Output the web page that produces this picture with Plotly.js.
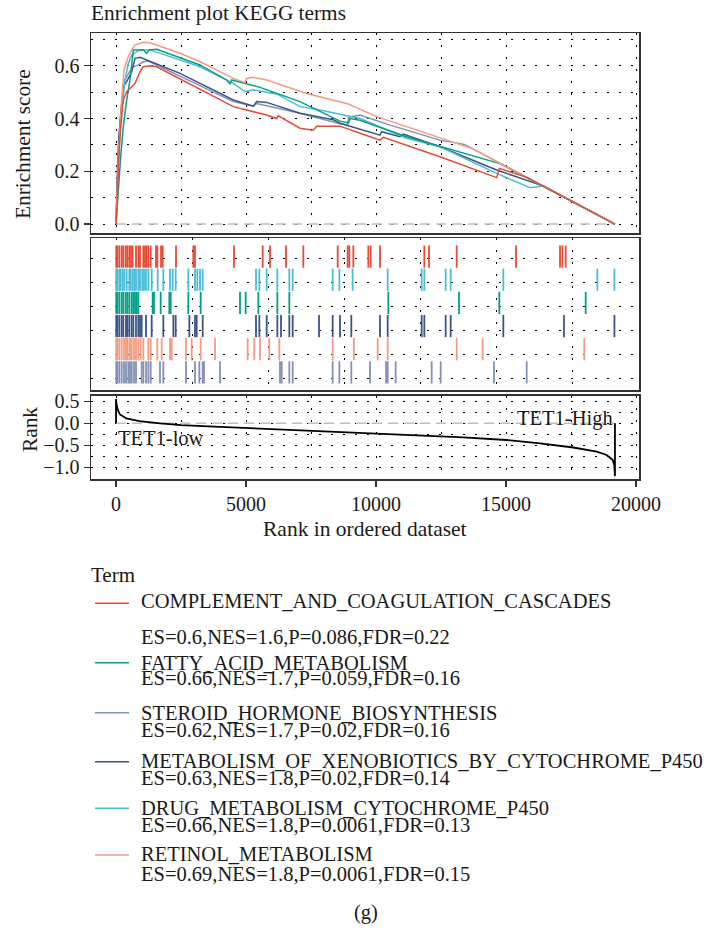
<!DOCTYPE html>
<html>
<head>
<meta charset="utf-8">
<script src="https://cdn.plot.ly/plotly-3.0.1.min.js"></script>
<style>html,body{margin:0;padding:0;background:#fff}#chart{width:711px;height:930px}</style>
</head>
<body>
<div id="chart"></div>
<script>
// ---------------- DATA ----------------
const nGenes = 19190;

// legend (display order)
const legendTerms = [
  "COMPLEMENT_AND_COAGULATION_CASCADES",
  "FATTY_ACID_METABOLISM",
  "STEROID_HORMONE_BIOSYNTHESIS",
  "METABOLISM_OF_XENOBIOTICS_BY_CYTOCHROME_P450",
  "DRUG_METABOLISM_CYTOCHROME_P450",
  "RETINOL_METABOLISM"
];
const legendStats = [
  "ES=0.6,NES=1.6,P=0.086,FDR=0.22",
  "ES=0.66,NES=1.7,P=0.059,FDR=0.16",
  "ES=0.62,NES=1.7,P=0.02,FDR=0.16",
  "ES=0.63,NES=1.8,P=0.02,FDR=0.14",
  "ES=0.66,NES=1.8,P=0.0061,FDR=0.13",
  "ES=0.69,NES=1.8,P=0.0061,FDR=0.15"
];
const legendColors = ["#E64B35", "#00A087", "#8491B4", "#3C5488", "#4DBBD5", "#F39B7F"];

// running enrichment score curves (rank, ES)
const esRankComplement = [0, 51, 103, 179, 282, 410, 538, 731, 923, 1051, 1308, 1564, 4513, 5795, 6179, 6243, 7077, 7590, 7718, 8615, 9385, 10153, 10282, 12460, 14640, 14743, 15800, 19190];
const esComplement     = [0, 0.091, 0.243, 0.369, 0.47, 0.502, 0.514, 0.533, 0.577, 0.596, 0.60, 0.596, 0.445, 0.413, 0.40, 0.41, 0.363, 0.356, 0.371, 0.371, 0.344, 0.318, 0.329, 0.255, 0.176, 0.211, 0.177, 0];

const esRankFatty = [0, 90, 179, 282, 410, 538, 628, 667, 1051, 1180, 1269, 1564, 3231, 4256, 4385, 4449, 5538, 7077, 8615, 8950, 9000, 9385, 11180, 14770, 19190];
const esFatty     = [0, 0.142, 0.255, 0.369, 0.47, 0.546, 0.628, 0.66, 0.66, 0.647, 0.66, 0.662, 0.603, 0.546, 0.531, 0.546, 0.518, 0.464, 0.39, 0.383, 0.40, 0.393, 0.331, 0.229, 0];

const esRankSteroid = [0, 51, 128, 218, 346, 513, 667, 859, 1051, 1244, 4513, 5282, 5410, 7077, 8615, 8900, 8950, 9385, 10538, 12460, 13400, 19190];
const esSteroid     = [0, 0.217, 0.344, 0.445, 0.546, 0.577, 0.596, 0.603, 0.615, 0.618, 0.464, 0.447, 0.457, 0.42, 0.38, 0.375, 0.405, 0.413, 0.375, 0.318, 0.302, 0];

const esRankXeno = [0, 51, 103, 179, 282, 410, 603, 731, 923, 2462, 4513, 5282, 5410, 5795, 7077, 8359, 8615, 10153, 10218, 10923, 11050, 12460, 14640, 16050, 16435, 19190];
const esXeno     = [0, 0.192, 0.318, 0.42, 0.52, 0.54, 0.577, 0.628, 0.632, 0.571, 0.47, 0.447, 0.464, 0.461, 0.42, 0.395, 0.382, 0.337, 0.35, 0.331, 0.341, 0.293, 0.205, 0.157, 0.144, 0];

const esRankDrug = [0, 51, 128, 218, 346, 474, 603, 923, 1308, 3231, 4513, 4962, 5282, 6179, 7077, 7846, 9385, 11180, 12460, 14640, 15920, 16435, 19190];
const esDrug     = [0, 0.142, 0.306, 0.432, 0.546, 0.609, 0.641, 0.66, 0.66, 0.596, 0.533, 0.502, 0.508, 0.493, 0.445, 0.432, 0.40, 0.325, 0.293, 0.192, 0.138, 0.144, 0];

const esRankRetinol = [0, 90, 218, 308, 474, 603, 731, 1051, 1308, 2462, 3231, 4513, 4962, 5026, 5282, 5795, 7333, 8615, 8935, 10025, 12460, 13700, 19190];
const esRetinol     = [0, 0.243, 0.47, 0.584, 0.634, 0.66, 0.679, 0.689, 0.687, 0.647, 0.615, 0.552, 0.536, 0.552, 0.556, 0.546, 0.495, 0.464, 0.455, 0.407, 0.325, 0.286, 0];

// hit positions (rug rows, top to bottom)
const hitsComplement = [10, 51, 128, 218, 282, 372, 436, 513, 577, 641, 769, 859, 923, 1051, 1115, 1179, 1244, 1333, 1538, 1590, 1731, 1795, 2308, 2974, 3038, 4538, 5641, 5923, 6538, 7205, 8526, 8910, 8974, 9128, 9705, 9795, 10154, 11859, 12038, 13103, 15385, 17077, 17167, 17295];
const hitsDrug = [10, 51, 128, 179, 256, 321, 410, 513, 564, 641, 705, 769, 859, 923, 1013, 1077, 1154, 1244, 1372, 1603, 1820, 2077, 2179, 2295, 2782, 3038, 3128, 3231, 3333, 5384, 5513, 5795, 6205, 6666, 6795, 8333, 8590, 9100, 10449, 11756, 11859, 12679, 12872, 14897, 18512, 19170];
const hitsFatty = [10, 51, 128, 218, 282, 372, 436, 513, 603, 667, 731, 795, 859, 1410, 1461, 1718, 2051, 2102, 2782, 3256, 4769, 4987, 5474, 6205, 6666, 10474, 13192, 14743, 18064];
const hitsXeno = [10, 51, 128, 218, 282, 385, 436, 513, 603, 667, 769, 859, 923, 987, 1154, 1372, 1820, 2205, 2295, 2820, 3038, 3103, 3333, 5384, 5513, 5795, 6205, 6346, 6666, 6795, 7808, 8333, 8615, 9050, 10154, 10449, 11756, 11859, 12679, 12872, 14897, 17230, 19170];
const hitsRetinol = [10, 51, 128, 218, 308, 385, 449, 538, 603, 692, 769, 859, 949, 1051, 1244, 1333, 1590, 1756, 2077, 2141, 2692, 2910, 3256, 3808, 5064, 5320, 5538, 5897, 6282, 8333, 9150, 10064, 10449, 13103, 14102, 18012];
const hitsSteroid = [10, 51, 128, 218, 308, 385, 474, 538, 603, 692, 769, 987, 1051, 1154, 1244, 1333, 1692, 1820, 2692, 3038, 3205, 3333, 3384, 4000, 6307, 6372, 6666, 6795, 8333, 8590, 9050, 9769, 10385, 10449, 10756, 12141, 12487, 14538, 15795];

// ranked list metric
const rankPos    = [0, 0, 20, 60, 150, 400, 900, 1700, 2500, 4000, 5000, 7500, 10000, 12077, 13360, 15026, 16308, 17590, 18490, 18870, 19100, 19165, 19190, 19190];
const rankMetric = [0, 0.55, 0.42, 0.32, 0.2, 0.11, 0.05, 0.0, -0.04, -0.08, -0.105, -0.165, -0.225, -0.28, -0.32, -0.38, -0.455, -0.55, -0.645, -0.72, -0.83, -0.95, -1.2, 0];

// ---------------- BUILD ----------------
const FONT = "Liberation Serif, 'DejaVu Serif', serif";
const TXT = "#1a1a1a";
const DOT = "2px,10px";

const esSets = [
  {r: esRankSteroid, v: esSteroid, c: legendColors[2]},
  {r: esRankXeno, v: esXeno, c: legendColors[3]},
  {r: esRankDrug, v: esDrug, c: legendColors[4]},
  {r: esRankFatty, v: esFatty, c: legendColors[1]},
  {r: esRankRetinol, v: esRetinol, c: legendColors[5]},
  {r: esRankComplement, v: esComplement, c: legendColors[0]}
];
const rugRows = [
  {h: hitsComplement, c: "#E64B35"},
  {h: hitsDrug, c: "#4DBBD5"},
  {h: hitsFatty, c: "#00A087"},
  {h: hitsXeno, c: "#3C5488"},
  {h: hitsRetinol, c: "#F39B7F"},
  {h: hitsSteroid, c: "#8491B4"}
];

const traces = [];
traces.push({x: [0, nGenes], y: [0, 0], xaxis: "x", yaxis: "y", mode: "lines",
  line: {color: "#BEBEBE", width: 1.5, dash: "10px,6px"}, hoverinfo: "skip", showlegend: false});
esSets.forEach(s => traces.push({x: s.r, y: s.v, xaxis: "x", yaxis: "y", mode: "lines",
  line: {color: s.c, width: 1.5}, hoverinfo: "skip", showlegend: false}));

rugRows.forEach((row, k) => {
  const xs = [], ys = [];
  row.h.forEach(r => { xs.push(r, r, null); ys.push(5 - k + 0.02, 6 - k - 0.02, null); });
  traces.push({x: xs, y: ys, xaxis: "x2", yaxis: "y2", mode: "lines",
    line: {color: row.c, width: 1.8}, hoverinfo: "skip", showlegend: false});
});

traces.push({x: [0, nGenes], y: [0, 0], xaxis: "x3", yaxis: "y3", mode: "lines",
  line: {color: "#BEBEBE", width: 1.5, dash: "10px,6px"}, hoverinfo: "skip", showlegend: false});
traces.push({x: rankPos, y: rankMetric, xaxis: "x3", yaxis: "y3", mode: "lines",
  line: {color: "#000", width: 1.8}, hoverinfo: "skip", showlegend: false});

// pixel helpers for paper positioning (plot area: x 91..639, y 33..479)
const L = 91, R = 639, T = 33, B = 479;
const px = p => (p - L) / (R - L);
const py = p => (B - p) / (B - T);

const xRange = [-962, 20115];
const gridBase = {showgrid: true, gridcolor: "#000", gridwidth: 1, griddash: DOT, zeroline: false,
  showline: true, mirror: true, linecolor: "#333", linewidth: 1.5};
const tickFont = {family: FONT, size: 20, color: TXT};

const layout = {
  width: 711, height: 930,
  margin: {l: L, r: 711 - R, t: T, b: 930 - B, pad: 0},
  paper_bgcolor: "#fff", plot_bgcolor: "#fff",
  font: {family: FONT, color: TXT},
  showlegend: false,
  xaxis: Object.assign({}, gridBase, {domain: [0, 1], anchor: "y", range: xRange, tick0: 0, dtick: 5000,
    showticklabels: false, ticks: "",
    minor: {dtick: 2500, showgrid: true, gridcolor: "#000", gridwidth: 1, griddash: DOT}}),
  yaxis: Object.assign({}, gridBase, {domain: [py(233.3), 1], anchor: "x", range: [-0.035, 0.724], tick0: 0, dtick: 0.2,
    tickformat: ".1f", ticks: "outside", ticklen: 6, tickwidth: 1.5, tickcolor: "#333", tickfont: tickFont,
    minor: {dtick: 0.1, showgrid: true, gridcolor: "#000", gridwidth: 1, griddash: DOT}}),
  xaxis2: Object.assign({}, gridBase, {domain: [0, 1], anchor: "y2", range: xRange, tick0: 0, dtick: 2923,
    showticklabels: false, ticks: ""}),
  yaxis2: Object.assign({}, gridBase, {domain: [py(390), py(238.3)], anchor: "x2", range: [-0.26, 6.29],
    tick0: 0.245, dtick: 1.036, showticklabels: false, ticks: ""}),
  xaxis3: Object.assign({}, gridBase, {domain: [0, 1], anchor: "y3", range: xRange, tick0: 0, dtick: 5000,
    tickformat: "d", ticks: "outside", ticklen: 6, tickwidth: 1.5, tickcolor: "#333", tickfont: tickFont,
    minor: {dtick: 2500, showgrid: true, gridcolor: "#000", gridwidth: 1, griddash: DOT}}),
  yaxis3: Object.assign({}, gridBase, {domain: [0, py(395.7)], anchor: "x3", range: [-1.266, 0.627], tick0: 0, dtick: 0.5,
    tickformat: ".1f", ticks: "outside", ticklen: 6, tickwidth: 1.5, tickcolor: "#333", tickfont: tickFont,
    minor: {dtick: 0.25, showgrid: true, gridcolor: "#000", gridwidth: 1, griddash: DOT}}),
  annotations: [],
  shapes: []
};

const ann = (text, x, y, size, extra) => Object.assign({text: text, x: px(x), y: py(y), xref: "paper", yref: "paper",
  xanchor: "left", yanchor: "middle", showarrow: false, font: {family: FONT, size: size, color: TXT}}, extra || {});

layout.annotations.push(ann("Enrichment plot KEGG terms", 89, 13.5, 21.3));
layout.annotations.push(ann("Enrichment score", 23, 144, 21.3, {xanchor: "center", textangle: -90}));
layout.annotations.push(ann("Rank", 30, 430, 21.3, {xanchor: "center", textangle: -90}));
layout.annotations.push(ann("Rank in ordered dataset", 365, 529, 21.5, {xanchor: "center"}));
layout.annotations.push({text: "TET1-low", x: 0, y: -0.327, xref: "x3", yref: "y3", xanchor: "left", yanchor: "middle",
  showarrow: false, font: {family: FONT, size: 20.5, color: TXT}});
layout.annotations.push({text: "TET1-High", x: nGenes, y: 0.114, xref: "x3", yref: "y3", xanchor: "right", yanchor: "middle",
  showarrow: false, font: {family: FONT, size: 20.5, color: TXT}});
layout.annotations.push(ann("Term", 89, 575, 21));

const nameY = [601, 663.3, 712.5, 760.5, 807.5, 854];
const statY = [636.5, 678.3, 730, 778.3, 825, 873.5];
const swatchY = [603.3, 662.7, 712.7, 761.7, 808.3, 855];
legendTerms.forEach((t, i) => {
  layout.annotations.push(ann(t, 139, nameY[i], 20.5));
  layout.annotations.push(ann(legendStats[i], 139, statY[i], 20.5));
  layout.shapes.push({type: "line", xref: "paper", yref: "paper", x0: px(95), x1: px(129),
    y0: py(swatchY[i]), y1: py(swatchY[i]), line: {color: legendColors[i], width: 1.5}});
});
layout.annotations.push(ann("(g)", 366, 912, 20.5, {xanchor: "center"}));

Plotly.newPlot("chart", traces, layout, {displayModeBar: false, staticPlot: true});
</script>
</body>
</html>
